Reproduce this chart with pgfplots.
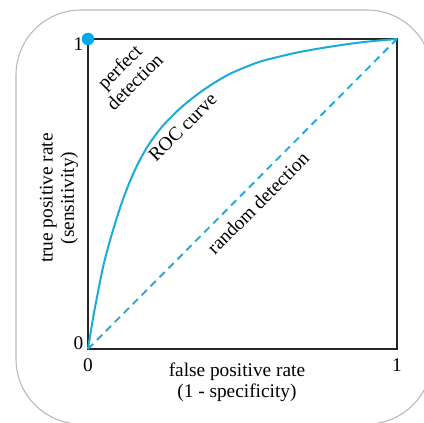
\documentclass[border=0pt]{standalone}
\usepackage{fontspec}
\setmainfont{Liberation Serif}
\usepackage{pgfplots}
\pgfplotsset{compat=1.18}
\definecolor{roc}{RGB}{28,170,215}
\definecolor{dot}{RGB}{0,170,240}
\newcommand{\lbl}{\fontsize{14.5}{16}\selectfont}
\begin{document}
\begin{tikzpicture}
\useasboundingbox (0pt,0pt) rectangle (318pt,316.5pt);
\clip (0pt,0pt) rectangle (318pt,316.5pt);
% rounded frame round the chart
\draw[gray!55, line width=0.8pt, rounded corners=48.75pt] (12pt,-1.5pt) rectangle (324pt,309pt);
\begin{axis}[
    at={(66pt,54.75pt)}, anchor=south west,
    scale only axis,
    width=231.75pt, height=232.5pt,
    xmin=0, xmax=1, ymin=0, ymax=1,
    xtick={0,1}, ytick={0},
    extra y ticks={1},
    extra y tick style={yticklabel style={yshift=-9pt}},
    major tick length=0pt,
    tick label style={font=\lbl},
    xticklabel style={yshift=-3.5pt},
    yticklabel style={anchor=base east},
    /pgf/number format/assume math mode=true,
    axis line style={black!85, line width=0.8pt},
    xlabel={false positive rate\\(1 - specificity)},
    ylabel={true positive rate\\(sensitivity)},
    xlabel style={at={(axis description cs:0.482,-0.03)}, anchor=north, align=center, font=\lbl},
    ylabel style={at={(axis description cs:-0.017,0.487)}, anchor=south, align=center, font=\lbl},
    clip=false,
]
% random detection
\addplot[roc, line width=1.4pt, dash pattern=on 5.5pt off 4pt] coordinates {(0,0) (1,1)};
% ROC curve
\addplot[roc, line width=1.5pt, smooth] coordinates {
    (0,0) (0.011,0.068) (0.023,0.136) (0.050,0.270) (0.077,0.370)
    (0.109,0.471) (0.140,0.551) (0.170,0.614) (0.201,0.666) (0.244,0.722)
    (0.298,0.776) (0.352,0.820) (0.406,0.857) (0.460,0.888) (0.519,0.913)
    (0.567,0.930) (0.675,0.956) (0.783,0.975) (0.891,0.990) (1,1)
};
% perfect detection point
\addplot[only marks, mark=*, mark size=4.5pt, mark options={draw=dot, fill=dot}] coordinates {(0,1)};
\node[rotate=45, align=center, font=\lbl] at (axis cs:0.126,0.887) {perfect\\detection};
\node[rotate=45, font=\lbl] at (axis cs:0.306,0.715) {ROC curve};
\node[rotate=45, font=\lbl] at (axis cs:0.550,0.471) {random detection};
\end{axis}
\end{tikzpicture}
\end{document}
